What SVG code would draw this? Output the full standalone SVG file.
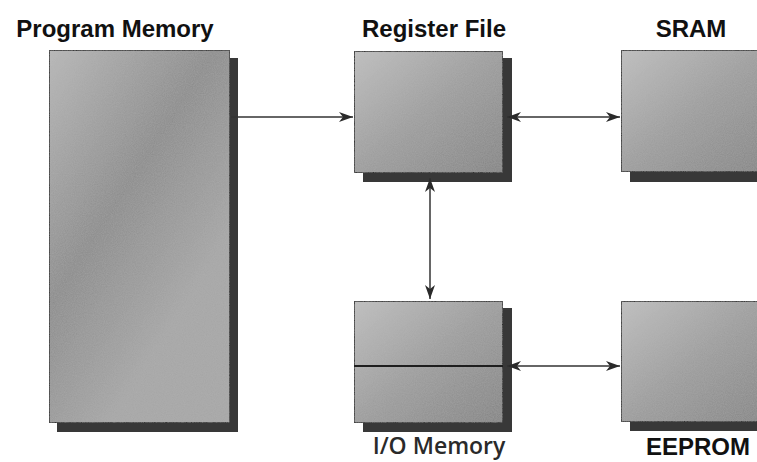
<svg xmlns="http://www.w3.org/2000/svg" width="757" height="462" viewBox="0 0 757 462">
  <defs>
    <linearGradient id="boxFill" x1="0" y1="0" x2="1" y2="1">
      <stop offset="0" stop-color="#c0c0c0"/>
      <stop offset="0.5" stop-color="#9c9c9c"/>
      <stop offset="1" stop-color="#808080"/>
    </linearGradient>
    <linearGradient id="tallFill" x1="0" y1="0" x2="0.6" y2="0.8">
      <stop offset="0" stop-color="#b8b8b8"/>
      <stop offset="0.55" stop-color="#8a8a8a"/>
      <stop offset="1" stop-color="#a6a6a6"/>
    </linearGradient>
    <filter id="grain" x="0" y="0" width="1" height="1">
      <feTurbulence type="fractalNoise" baseFrequency="0.9" numOctaves="2" seed="3" result="n"/>
      <feColorMatrix in="n" type="matrix" values="0 0 0 0 0.5  0 0 0 0 0.5  0 0 0 0 0.5  0 0 0 0.35 0" result="g"/>
      <feComposite in="g" in2="SourceGraphic" operator="in" result="gc"/>
      <feMerge><feMergeNode in="SourceGraphic"/><feMergeNode in="gc"/></feMerge>
    </filter>
    <marker id="arr" viewBox="0 0 14 10" refX="14" refY="5" markerWidth="14" markerHeight="10" markerUnits="userSpaceOnUse" orient="auto-start-reverse">
      <path d="M0,0 L14,5 L0,10 L4,5 z" fill="#2a2a2a"/>
    </marker>
    <style>
      .shadow { fill: #383838; }
      .box { stroke: #1e1e1e; stroke-width: 2; }
      .lbl { font-family: "Liberation Sans", Arial, sans-serif; font-weight: bold; font-size: 24px; fill: #111; text-anchor: middle; }
      .lbl2 { font-family: "Open Sans", "DejaVu Sans", sans-serif; font-weight: 600; font-size: 23px; fill: #2a2a2a; text-anchor: middle; }
      .conn line { stroke: #333; stroke-width: 1.5; }
    </style>
  </defs>
  <rect width="757" height="462" fill="#ffffff"/>

  <g id="program-memory">
    <rect class="shadow" x="57" y="58" width="181" height="374"/>
    <rect class="box" x="49" y="50" width="181" height="373" fill="url(#tallFill)" filter="url(#grain)"/>
    <text class="lbl" x="115" y="37">Program Memory</text>
  </g>

  <g id="register-file">
    <rect class="shadow" x="363" y="58" width="149" height="124"/>
    <rect class="box" x="354" y="51" width="149" height="122" fill="url(#boxFill)" filter="url(#grain)"/>
    <text class="lbl" x="434" y="37">Register File</text>
  </g>

  <g id="sram">
    <rect class="shadow" x="630" y="58" width="140" height="124"/>
    <rect class="box" x="621" y="50" width="150" height="122" fill="url(#boxFill)" filter="url(#grain)"/>
    <text class="lbl" x="691" y="37">SRAM</text>
  </g>

  <g id="io-memory">
    <rect class="shadow" x="363" y="308" width="149" height="124"/>
    <rect class="box" x="354" y="301" width="149" height="122" fill="url(#boxFill)" filter="url(#grain)"/>
    <line x1="354" y1="366" x2="503" y2="366" stroke="#1e1e1e" stroke-width="2"/>
    <text class="lbl2" x="439" y="454">I/O Memory</text>
  </g>

  <g id="eeprom">
    <rect class="shadow" x="630" y="308" width="140" height="123"/>
    <rect class="box" x="621" y="301" width="150" height="121" fill="url(#boxFill)" filter="url(#grain)"/>
    <text class="lbl" x="698" y="455">EEPROM</text>
  </g>

  <g id="connectors" class="conn">
    <line x1="231" y1="117" x2="353" y2="117" marker-end="url(#arr)"/>
    <line x1="507" y1="117" x2="620" y2="117" marker-start="url(#arr)" marker-end="url(#arr)"/>
    <line x1="430" y1="178" x2="430" y2="299" marker-start="url(#arr)" marker-end="url(#arr)"/>
    <line x1="507" y1="366" x2="620" y2="366" marker-start="url(#arr)" marker-end="url(#arr)"/>
  </g>
</svg>
